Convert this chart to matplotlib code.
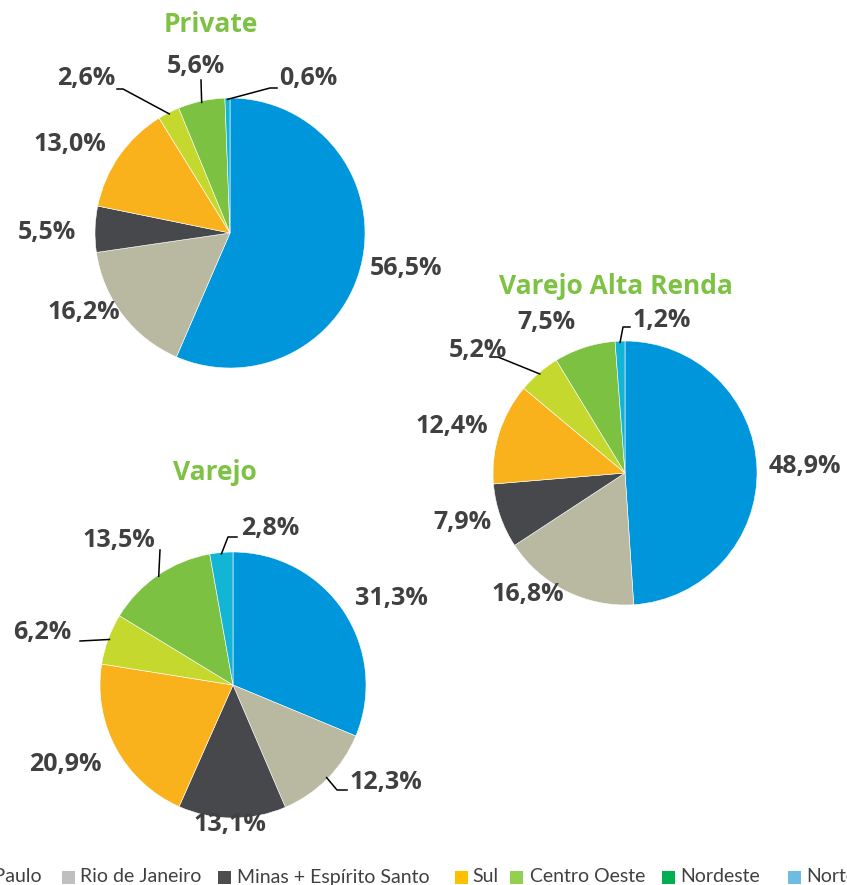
import matplotlib.pyplot as plt
import numpy as np
from matplotlib.patches import Rectangle

# regions, in pie order (clockwise from top)
regions = ['São Paulo', 'Rio de Janeiro', 'Minas + Espírito Santo', 'Sul',
           'Centro Oeste', 'Nordeste', 'Norte']
private = [56.5, 16.2, 5.5, 13.0, 2.6, 5.6, 0.6]
alta_renda = [48.9, 16.8, 7.9, 12.4, 5.2, 7.5, 1.2]
varejo = [31.3, 12.3, 13.1, 20.9, 6.2, 13.5, 2.8]
titles = ['Private', 'Varejo Alta Renda', 'Varejo']

pie_colors = ['#0096DB', '#B9B9A2', '#46484B', '#F9B21B', '#C4D82E', '#7CC142', '#13B5D6']
legend_colors = ['#0096DB', '#BFBFBF', '#4D4D4D', '#FFC000', '#92D050', '#00B050', '#6DBDE3']
txt_col = '#404040'
green = '#7DC242'

W, H = 847, 885
fig = plt.figure(figsize=(W / 100, H / 100), dpi=100)
ax = fig.add_axes([0, 0, 1, 1])

def Y(y):
    # image pixel row -> data y
    return H - y

# layout: centre, radius, title pos, label text pos, leader (elbow, end) or None
layouts = [
    dict(c=(230, 233), r=135, tpos=(211, 25),
         lab=[(406, 268), (84, 313), (47, 233), (70, 145), (86, 78), (196, 66), (308, 78)],
         lead=[None, None, None, None, [(123, 89), (117, 89)], [(201, 80)], [(270, 88), (277, 88)]]),
    dict(c=(625, 473), r=132, tpos=(616, 287),
         lab=[(805, 467), (528, 595), (462, 523), (452, 427), (478, 350), (546, 323), (662, 320)],
         lead=[None, None, None, None, [(498, 357), (490, 357)], None, [(623, 327), (630, 327)]]),
    dict(c=(233, 685), r=133, tpos=(215, 473),
         lab=[(391, 598), (386, 783), (230, 825), (65, 765), (42, 633), (119, 540), (270, 528)],
         lead=[None, [(337, 790), (347, 790)], None, None, [(80, 641)], [(160, 550)], [(228, 537), (237, 537)]]),
]

for vals, title, lay in zip([private, alta_renda, varejo], titles, layouts):
    cx, cy = lay['c']
    r = lay['r']
    wedges, _ = ax.pie(vals, colors=pie_colors, startangle=90, counterclock=False,
                       center=(cx, Y(cy)), radius=r,
                       wedgeprops=dict(linewidth=0.4, edgecolor='white'))
    ax.text(lay['tpos'][0], Y(lay['tpos'][1]), title, color=green, fontsize=19,
            fontweight='bold', family='Open Sans', ha='center', va='center')
    for v, w, (tx, ty), ld in zip(vals, wedges, lay['lab'], lay['lead']):
        label = f'{v:.1f}%'.replace('.', ',')
        ax.text(tx, Y(ty), label, color=txt_col, fontsize=18, fontweight='bold',
                family='Open Sans', ha='center', va='center')
        if ld is not None:
            ang = np.deg2rad((w.theta1 + w.theta2) / 2)
            sx = cx + r * 0.99 * np.cos(ang)
            sy = Y(cy) + r * 0.99 * np.sin(ang)
            xs = [sx] + [p[0] for p in ld]
            ys = [sy] + [Y(p[1]) for p in ld]
            ax.plot(xs, ys, color='black', lw=1.1)

# legend row, cut at both edges like the reference
sq_x = [-40, 62, 218, 455, 510, 662, 788]
tx_x = [-38, 80, 237, 472, 530, 680, 806]
ly = Y(877)
for name, col, sx, tx in zip(regions, legend_colors, sq_x, tx_x):
    ax.add_patch(Rectangle((sx, ly - 6.5), 13, 13, color=col, lw=0))
    if name == 'São Paulo':
        ax.text(42, ly, name, ha='right', va='center', fontsize=14,
                family='Lato', color=txt_col)
    else:
        ax.text(tx, ly, name, ha='left', va='center', fontsize=14,
                family='Lato', color=txt_col)

ax.set_xlim(0, W)
ax.set_ylim(0, H)
ax.set_aspect('equal')
ax.axis('off')
fig.savefig('out.png', dpi=100)
